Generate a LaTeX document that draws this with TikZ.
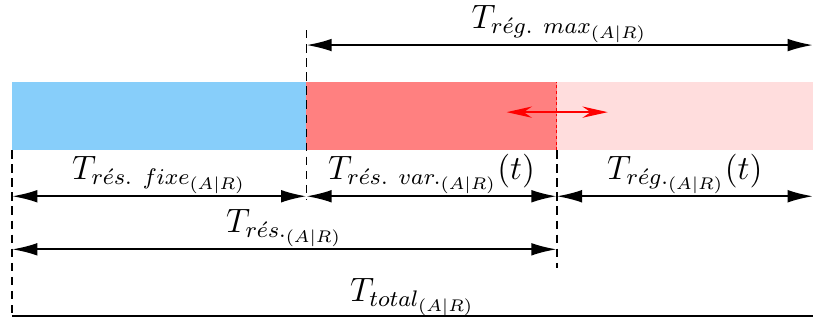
\documentclass[tikz,border=0pt]{standalone}
\definecolor{barblue}{RGB}{135,206,250}
\definecolor{barred}{RGB}{255,128,128}
\definecolor{barpink}{RGB}{255,221,221}
\usepackage{tikz}
\usetikzlibrary{arrows.meta,positioning}

\begin{document}
\begin{tikzpicture}[font=\large,
    dim/.style={{Latex[length=9pt,width=4.5pt]}-{Latex[length=9pt,width=4.5pt]}, line width=0.7pt},
    guide/.style={dash pattern=on 3pt off 2pt, line width=0.6pt},
    lbl/.style={midway, above, inner sep=0.5pt}]
  \useasboundingbox (-0.15,-2.125) rectangle (10,1.875);
  % the three phases
  \fill[barblue] (0,0) rectangle (3.675,0.85);
  \fill[barred] (3.675,0) rectangle (6.8,0.85);
  \fill[barpink] (6.8,0) rectangle (10,0.85);
  % marks on the time line
  \coordinate (start) at (0,0);
  \coordinate (fixend) at (3.675,0);
  \coordinate (varend) at (6.8,0);
  \coordinate (fixtop) at (3.675,1.5);
  \coordinate (fixbot) at (3.675,-0.625);
  \coordinate (varbot) at (6.8,-1.475);
  \coordinate (vartop) at (6.8,0.85);
  \coordinate (startbot) at (0,-2.075);
  \coordinate (endbot) at (10,-2.075);
  \coordinate (maxA) at (3.675,1.3125);
  \coordinate (maxB) at (10,1.3125);
  \coordinate (rowA) at (0,-0.575);
  \coordinate (rowAfix) at (3.675,-0.575);
  \coordinate (rowAvar) at (6.8,-0.575);
  \coordinate (rowAend) at (10,-0.575);
  \coordinate (rowB) at (0,-1.2375);
  \coordinate (rowBvar) at (6.8,-1.2375);
  \coordinate (shiftL) at (6.175,0.475);
  \coordinate (shiftR) at (7.4375,0.475);
  % guides
  \draw[guide] (fixtop) -- (fixbot);
  \draw[guide] (start) -- (startbot);
  \draw[guide] (varend) -- (varbot);
  \draw[red, dash pattern=on 1pt off 1pt, line width=0.4pt] (varend) -- (vartop);
  % movable boundary
  \draw[red, line width=0.5pt, {Stealth[length=9pt,width=4pt]}-{Stealth[length=9pt,width=4pt]}]
    (shiftL) -- (shiftR);
  % durations
  \draw[dim] (maxA) -- (maxB)
    node[lbl] (lblmax) {$T_{r\acute{e}g.\ max_{(A|R)}}$};
  \draw[dim] (rowA) -- (rowAfix)
    node[lbl] (lblfix) {$T_{r\acute{e}s.\ fixe_{(A|R)}}$};
  \draw[dim] (rowAfix) -- (rowAvar)
    node[lbl] (lblvar) {$T_{r\acute{e}s.\ var._{(A|R)}}(t)$};
  \draw[dim] (rowAvar) -- (rowAend)
    node[lbl] (lblreg) {$T_{r\acute{e}g._{(A|R)}}(t)$};
  \draw[dim] (rowB) -- (rowBvar)
    node[lbl] (lblres) {$T_{r\acute{e}s._{(A|R)}}$};
  \draw[line width=0.7pt] (startbot) -- (endbot)
    node[lbl, inner sep=0pt] (lbltot) {$T_{total_{(A|R)}}$};
\end{tikzpicture}
\end{document}
